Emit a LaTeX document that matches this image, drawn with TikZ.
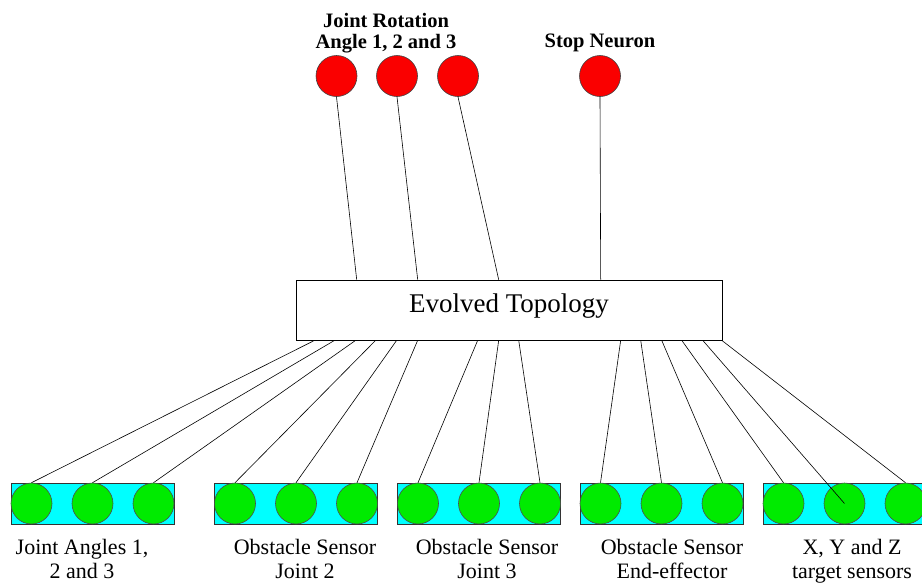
\documentclass[tikz,border=0pt]{standalone}
\usepackage{fontspec}
\setmainfont{Liberation Serif}
\usetikzlibrary{calc,positioning}
\definecolor{myred}{RGB}{250,0,0}
\definecolor{mygreen}{RGB}{0,235,0}
\definecolor{mycyan}{RGB}{0,255,255}

\begin{document}
\begin{tikzpicture}[
  x=1pt, y=-1pt,
  line width=0.6pt,
  mybox/.style={
    draw,
    rectangle,
    minimum width=426pt,
    inner xsep=0pt,
    inner ysep=0pt,
    text height=32pt,
    text depth=28pt,
    font=\fontsize{27}{30}\selectfont
    },
  myneuron/.style={
    draw=black!75,
    fill=myred,
    circle,
    minimum size=41pt,
    inner sep=0pt
    },
  mysensor/.style={
    draw=black!70,
    fill=mygreen,
    circle,
    minimum size=41pt,
    inner sep=0pt
    },
  mybar/.style={
    draw=black!80,
    fill=mycyan,
    rectangle,
    minimum width=163pt,
    minimum height=41pt,
    inner sep=0pt
    },
  mylabel/.style={
    align=center,
    inner sep=0pt,
    anchor=north,
    font=\fontsize{22}{24}\selectfont
    },
  mytoplabel/.style={
    align=center,
    inner sep=0pt,
    font=\bfseries\fontsize{20.5}{20.5}\selectfont
  }
]
\useasboundingbox (0,0) rectangle (922,582);

\node[mybox, anchor=base] (topo) at (509,312) {Evolved Topology};

\foreach \Valor/\Valx in {1/336.5, 2/397, 3/458}
  \node[myneuron] (rot\Valor) at (\Valx,76) {};
\node[myneuron] (stop) at (600,76) {};

\node[mytoplabel, anchor=north] (rotlabel) at (386,13) {Joint Rotation\\Angle 1, 2 and 3};
\node[mytoplabel, anchor=base] (stoplabel) at (600,47) {Stop Neuron};

\foreach \Valor/\Valoff in {1/61, 2/122, 3/203}
  \draw (rot\Valor.south) -- ([xshift=\Valoff pt]topo.north west);
\draw (stop.south) -- ([xshift=305pt]topo.north west);

\foreach \Valor/\Valx in {1/92.5, 2/296, 3/479, 4/661.5, 5/844.5} {
  \node[mybar] (bar\Valor) at (\Valx,503.5) {};
  \foreach \Valk in {1,2,3}
    \node[mysensor] (sens\Valor\Valk) at ({\Valx+61*(\Valk-2)},503.5) {};
}

\foreach \Valor/\Valx/\Valtext in {1/82/{Joint Angles 1,\\2 and 3}, 2/305/{Obstacle Sensor\\Joint 2}, 3/487/{Obstacle Sensor\\Joint 3}, 4/672/{Obstacle Sensor\\End-effector}, 5/852/{X, Y and Z\\target sensors}}
  \node[mylabel] (lab\Valor) at (\Valx,539) {\Valtext};

\foreach \Valor/\Valoff in {11/19, 12/39, 13/60, 21/80, 22/101, 23/122, 31/182, 32/203, 33/223, 41/325, 42/345, 43/366, 51/386, 53/426}
  \draw (sens\Valor.north) -- ([xshift=\Valoff pt]topo.south west);
\draw (sens52.center) -- ([xshift=407pt]topo.south west);

\end{tikzpicture}
\end{document}
